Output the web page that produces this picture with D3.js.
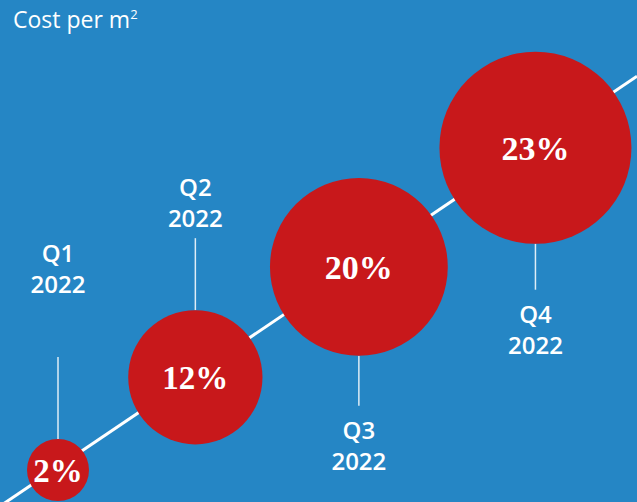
<!DOCTYPE html>
<html>
<head>
<meta charset="utf-8">
<script src="https://cdn.jsdelivr.net/npm/d3@7"></script>
<style>
  html, body { margin: 0; padding: 0; background: #2586C5; }
  svg { display: block; }
</style>
</head>
<body>
<script>
// ---- data ----
const quarters = ["Q1", "Q2", "Q3", "Q4"];
const years = ["2022", "2022", "2022", "2022"];
const values = [2, 12, 20, 23];
const valueLabels = ["2%", "12%", "20%", "23%"];
const titleText = "Cost per m";
const titleSup = "2";

// ---- layout ----
const W = 637, H = 502;
const bg = "#2586C5", red = "#C8181B";
const side = ["above", "above", "below", "below"];
const connLen = [82, 72, 50, 46];
const labelGap = [64, 11, 33, 33];
const lineStep = 31;

const svg = d3.select("body").append("svg").attr("width", W).attr("height", H);
svg.append("rect").attr("width", W).attr("height", H).attr("fill", bg);

// radius scale
const rScale = d3.scalePow().exponent(0.55).domain([0, d3.max(values)]).range([0, 96]);
const radii = values.map(v => Math.max(31, rScale(v)));

// x positions: spacing from radii
const xs = [];
radii.forEach((r, i) => {
  if (i === 0) xs.push(58);
  else xs.push(xs[i - 1] + 0.452 * (radii[i - 1] + r) + 93);
});

// diagonal trend line
const yLine = d3.scaleLinear().domain([58, 58 + 100]).range([467, 467 - 67.5]);
const cyOf = x => yLine(x) + 3;

svg.append("line")
  .attr("x1", 0).attr("y1", yLine(0))
  .attr("x2", W).attr("y2", yLine(W))
  .attr("stroke", "#fff").attr("stroke-width", 3);

const g = svg.selectAll("g.item").data(values).join("g").attr("class", "item");

// connectors
g.append("line")
  .attr("x1", (d, i) => xs[i]).attr("x2", (d, i) => xs[i])
  .attr("y1", (d, i) => side[i] === "above" ? cyOf(xs[i]) - radii[i] : cyOf(xs[i]) + radii[i])
  .attr("y2", (d, i) => side[i] === "above" ? cyOf(xs[i]) - radii[i] - connLen[i] : cyOf(xs[i]) + radii[i] + connLen[i])
  .attr("stroke", "rgba(255,255,255,0.85)").attr("stroke-width", 1.5);

// circles
g.append("circle")
  .attr("cx", (d, i) => xs[i]).attr("cy", (d, i) => cyOf(xs[i]))
  .attr("r", (d, i) => radii[i])
  .attr("fill", red);

// value labels
g.append("text")
  .attr("x", (d, i) => xs[i]).attr("y", (d, i) => cyOf(xs[i]) + 12)
  .attr("text-anchor", "middle")
  .attr("font-family", "'Liberation Serif', 'Times New Roman', serif")
  .attr("font-weight", "bold")
  .attr("font-size", (d, i) => i < 2 ? 33 : 34)
  .attr("fill", "#fff")
  .text((d, i) => valueLabels[i]);

// quarter labels
g.each(function (d, i) {
  const cy = cyOf(xs[i]);
  let y1, y2;
  if (side[i] === "above") {
    const end = cy - radii[i] - connLen[i];
    y2 = end - labelGap[i];
    y1 = y2 - lineStep;
  } else {
    const end = cy + radii[i] + connLen[i];
    y1 = end + labelGap[i];
    y2 = y1 + lineStep;
  }
  const t = d3.select(this);
  [[quarters[i], y1], [years[i], y2]].forEach(([s, y]) => {
    t.append("text")
      .attr("x", xs[i]).attr("y", y)
      .attr("text-anchor", "middle")
      .attr("font-family", "'Open Sans', sans-serif")
      .attr("font-weight", 600)
      .attr("font-size", 24)
      .attr("fill", "#fff")
      .text(s);
  });
});

// title
const title = svg.append("text")
  .attr("x", 13).attr("y", 28)
  .attr("font-family", "'Open Sans', sans-serif")
  .attr("font-weight", 500)
  .attr("font-size", 23)
  .attr("fill", "#fff");
title.append("tspan").text(titleText);
title.append("tspan").attr("dy", -9).attr("font-size", 13).text(titleSup);
</script>
</body>
</html>
